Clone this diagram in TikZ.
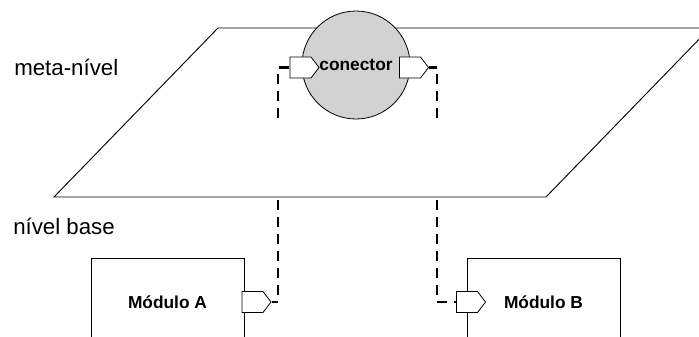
\documentclass[tikz,border=0pt]{standalone}
\usepackage{fontspec}
\setmainfont{Liberation Sans}
\usetikzlibrary{shapes.symbols}

\begin{document}
\begin{tikzpicture}[x=0.75pt, y=-0.75pt,
  rotulo/.style={font=\fontsize{16.7}{19}\selectfont, anchor=west, inner sep=0pt},
  negrito/.style={font=\fontsize{13}{15}\selectfont\bfseries},
  porta/.style={draw, fill=white, line width=0.6pt, signal, signal to=east,
    signal pointer angle=105, minimum width=21.75pt, minimum height=15.75pt, inner sep=0pt},
  modulo/.style={draw, line width=0.7pt, minimum width=114.75pt, minimum height=66pt, negrito},
  ligacao/.style={line width=2.2pt, dash pattern=on 7.5pt off 5.25pt}]

  \useasboundingbox (0,0) rectangle (699,336);
  \clip (0,0) rectangle (699,336);

  % plano do meta-nível
  \draw[line width=0.7pt]
    (218,28) -- (710,28) -- (546,197) -- (54,197) -- cycle;

  % rótulos dos níveis
  \node[rotulo] (meta) at (14,67) {meta-nível};
  \node[rotulo] (base) at (13,226) {nível base};

  % conector e suas portas
  \node[circle, draw, fill=gray!35, line width=0.6pt, minimum size=81pt,
    inner sep=0pt, negrito] (con) at (356,65) {conector};
  \node[porta] (pL) at (300.5,67.5) {};
  \node[porta] (pR) at (410,67.5) {};

  % módulos do nível base
  \node[modulo] (modA) at (167.5,302) {Módulo A};
  \node[modulo] (modB) at (543.5,302) {Módulo B};
  \node[porta] (pA) at (252.5,302) {};
  \node[porta] (pB) at (467,302) {};

  % ligações tracejadas (interrompidas pelo plano)
  \coordinate (cL) at (278,118);
  \coordinate (cR) at (437,118);
  \coordinate (bL) at (278,200);
  \coordinate (bR) at (437,200);

  \draw[ligacao] (cL) |- (pL.west);
  \draw[ligacao] (cR) |- (pR.east);
  \draw[ligacao] (bL) |- (pA.east);
  \draw[ligacao] (bR) |- (pB.west);

\end{tikzpicture}
\end{document}
